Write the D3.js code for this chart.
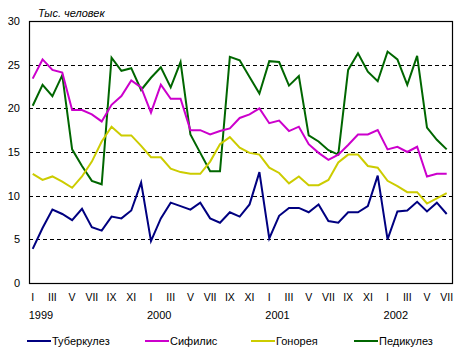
<!DOCTYPE html>
<html><head><meta charset="utf-8">
<script src="https://cdn.jsdelivr.net/npm/d3@7"></script>
<style>body{margin:0;background:#fff}text{font-family:Arial,"Liberation Sans",sans-serif}</style>
</head><body><svg id="c" width="467" height="357"></svg>
<script>
const months = ["I","II","III","IV","V","VI","VII","VIII","IX","X","XI","XII"];
const years = ["1999","2000","2001","2002"];
const seriesNames = ["Туберкулез","Сифилис","Гонорея","Педикулез"];
const seriesColors = ["#000080","#CC00CC","#CCCC00","#006600"];
const yTicks = [0,5,10,15,20,25,30];
const tuberculosis = [3.9,6.3,8.4,7.9,7.2,8.5,6.4,6.0,7.6,7.4,8.3,11.5,
  4.8,7.4,9.2,8.8,8.4,9.2,7.4,6.9,8.1,7.6,9.0,12.7,
  5.1,7.7,8.6,8.6,8.1,9.0,7.1,6.9,8.1,8.1,8.8,12.3,
  5.0,8.2,8.3,9.3,8.2,9.2,7.9];
const syphilis = [23.4,25.6,24.4,24.1,19.8,19.8,19.3,18.5,20.4,21.4,23.2,22.4,
  19.5,22.7,21.1,21.1,17.5,17.5,17.0,17.4,17.7,18.9,19.3,20.0,
  18.3,18.6,17.4,17.9,15.9,14.9,14.1,14.7,15.8,17.0,17.0,17.5,
  15.3,15.6,15.0,15.6,12.2,12.5,12.5];
const gonorrhea = [12.5,11.8,12.2,11.6,10.9,12.2,13.9,16.2,17.9,16.9,16.9,15.7,
  14.4,14.4,13.1,12.7,12.5,12.5,13.9,15.9,16.7,15.5,14.9,14.7,
  13.2,12.6,11.4,12.2,11.2,11.2,11.8,13.8,14.7,14.7,13.4,13.2,
  11.7,11.1,10.4,10.4,9.1,9.7,10.3];
const pediculosis = [20.3,22.7,21.4,23.8,15.3,13.4,11.7,11.3,25.8,24.3,24.6,22.1,
  23.5,24.7,22.4,25.3,17.0,14.9,12.8,12.8,25.9,25.5,23.6,21.7,
  25.4,25.3,22.6,23.7,16.9,16.2,15.2,14.7,24.4,26.3,24.2,23.1,
  26.5,25.6,22.7,26.0,17.8,16.4,15.3];
const seriesData = [tuberculosis, syphilis, gonorrhea, pediculosis];

const svg = d3.select("#c");
const L=29, R=452, T=21, B=283;
const n = tuberculosis.length;
const x = d3.scaleLinear().domain([0,n-1]).range([32.7,446.7]);
const y = d3.scaleLinear().domain([0,30]).range([B,T]);

// gridlines
svg.append("g").selectAll("line").data(yTicks.filter(v=>v>0&&v<30)).join("line")
  .attr("x1",L).attr("x2",R).attr("y1",d=>Math.round(y(d))+0.5).attr("y2",d=>Math.round(y(d))+0.5)
  .attr("stroke","#000").attr("stroke-width",1).attr("stroke-dasharray","4,3");

// box
svg.append("rect").attr("x",L+0.5).attr("y",T+0.5).attr("width",R-L).attr("height",B-T)
  .attr("fill","none").attr("stroke","#000").attr("stroke-width",1.2);

// y labels
svg.append("g").selectAll("text").data(yTicks).join("text")
  .attr("x",20).attr("y",d=>y(d)+4).attr("text-anchor","end")
  .attr("font-size",11).text(d=>d);

// title
svg.append("text").attr("x",38).attr("y",17).attr("font-size",11).attr("font-style","italic").text("Тыс. человек");

// x labels
const idx = d3.range(n).filter(i=>i%2===0);
svg.append("g").selectAll("text").data(idx).join("text")
  .attr("x",i=>x(i)).attr("y",301).attr("text-anchor","middle")
  .attr("font-size",10.5).text(i=>months[i%12]);
svg.append("g").selectAll("text").data(years).join("text")
  .attr("x",(d,k)=>x(k*12)-4).attr("y",319).attr("font-size",11).text(d=>d);

// lines
const line = d3.line().x((d,i)=>x(i)).y(d=>y(d));
svg.append("g").selectAll("path").data([3,0,2,1].map(k=>k)).join("path")
  .attr("d",k=>line(seriesData[k])).attr("fill","none")
  .attr("stroke",k=>seriesColors[k]).attr("stroke-width",2).attr("stroke-linejoin","miter");

// legend
const legX = [27,145,251,354];
const lg = svg.append("g").selectAll("g").data(seriesNames).join("g")
  .attr("transform",(d,k)=>`translate(${legX[k]},341)`);
lg.append("line").attr("x1",0).attr("x2",24).attr("y1",0).attr("y2",0)
  .attr("stroke",(d,k)=>seriesColors[k]).attr("stroke-width",2);
lg.append("text").attr("x",25).attr("y",4).attr("font-size",11).text(d=>d);
</script></body></html>
